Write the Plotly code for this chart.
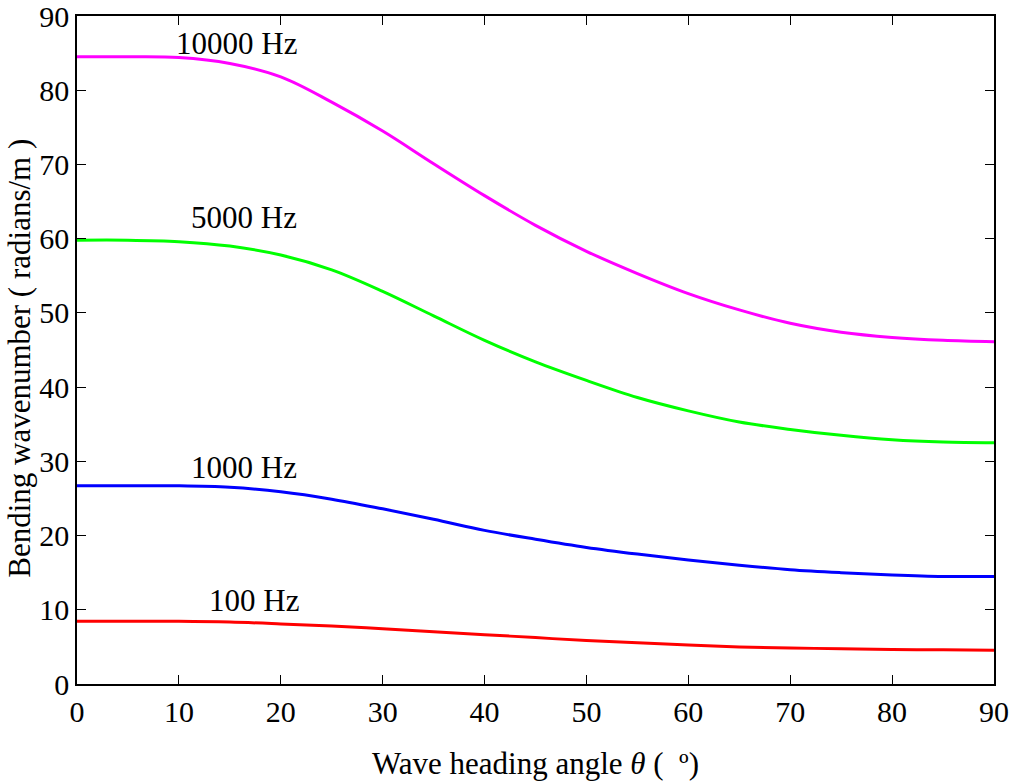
import plotly.graph_objects as go

# Wave heading angle (degrees)
theta = [0, 5, 10, 15, 20, 25, 30, 35, 40, 45, 50, 55, 60, 65, 70, 75, 80, 85, 90]

# Bending wavenumber (radians/m) for each frequency
k_10000 = [84.5, 84.5, 84.4, 83.6, 81.8, 78.4, 74.5, 70.1, 65.8, 61.8, 58.3, 55.3,
           52.6, 50.4, 48.6, 47.4, 46.7, 46.3, 46.1]
k_5000 = [59.8, 59.8, 59.6, 59.0, 57.8, 55.8, 52.9, 49.6, 46.3, 43.4, 40.9, 38.6,
          36.8, 35.3, 34.3, 33.5, 32.9, 32.6, 32.5]
k_1000 = [26.7, 26.7, 26.7, 26.5, 25.9, 24.9, 23.6, 22.2, 20.7, 19.5, 18.4, 17.5,
          16.7, 16.0, 15.4, 15.0, 14.7, 14.5, 14.5]
k_100 = [8.45, 8.45, 8.45, 8.35, 8.1, 7.8, 7.45, 7.05, 6.65, 6.25, 5.85, 5.55,
         5.25, 5.0, 4.85, 4.75, 4.65, 4.6, 4.55]

series = [
    ("10000 Hz", k_10000, "#ff00ff"),
    ("5000 Hz", k_5000, "#00ff00"),
    ("1000 Hz", k_1000, "#0000ff"),
    ("100 Hz", k_100, "#ff0000"),
]

# Label anchor points (x, y in data units)
label_x = [15.7, 16.4, 16.4, 17.4]
label_y = [86.3, 62.8, 29.2, 11.2]

FONT = "Liberation Serif, Times New Roman, serif"

fig = go.Figure()
for name, vals, color in series:
    fig.add_trace(go.Scatter(
        x=theta, y=vals, mode="lines", name=name,
        line=dict(color=color, width=3, shape="spline", smoothing=1.0),
        showlegend=False,
    ))

for (name, _, _), lx, ly in zip(series, label_x, label_y):
    fig.add_annotation(x=lx, y=ly, text=name, showarrow=False,
                       font=dict(family=FONT, size=31, color="black"),
                       xanchor="center", yanchor="middle")

# Vertical axis title, placed in paper coordinates left of the tick labels
fig.add_annotation(xref="paper", yref="paper", x=-0.0635, y=0.488,
                   text="Bending wavenumber ( radians/m )", textangle=-90,
                   showarrow=False, xanchor="center", yanchor="middle",
                   font=dict(family=FONT, size=31, color="black"))

axis_common = dict(
    showline=True, linecolor="black", linewidth=1.5, mirror="ticks",
    ticks="inside", ticklen=9, tickcolor="black", tickwidth=1,
    showgrid=False, zeroline=False, automargin=False,
    ticklabeloverflow="allow",
    tickfont=dict(family=FONT, size=30, color="black"),
)

fig.update_xaxes(range=[0, 90], tickvals=list(range(0, 91, 10)),
                 title=dict(text="Wave heading angle <i>θ</i> (  º)",
                            font=dict(family=FONT, size=31, color="black"),
                            standoff=26),
                 **axis_common)
fig.update_yaxes(range=[0, 90], tickvals=list(range(0, 91, 10)),
                 **axis_common)

fig.update_layout(
    width=1014, height=784,
    margin=dict(l=77, r=20, t=16, b=100),
    paper_bgcolor="white", plot_bgcolor="white",
)

fig.write_html("out.html")
